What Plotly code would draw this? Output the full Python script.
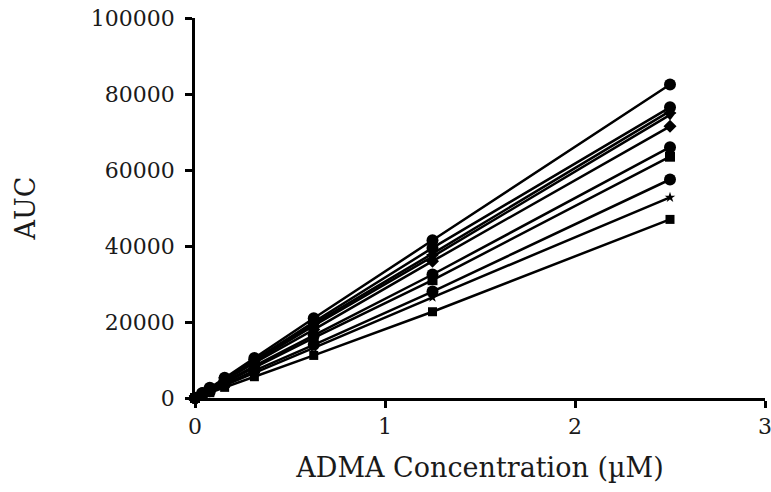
import plotly.graph_objects as go

conc = [0, 0.039, 0.078, 0.156, 0.3125, 0.625, 1.25, 2.5]

s1 = [0, 1300, 2700, 5300, 10500, 21000, 41500, 82500]
s2 = [0, 1250, 2500, 5000, 10000, 20000, 39500, 76500]
s3 = [0, 1200, 2450, 4900, 9800, 19500, 38000, 75500]
s4 = [0, 1200, 2400, 4800, 9500, 19000, 37200, 74500]
s5 = [0, 1150, 2300, 4600, 9200, 18000, 36000, 71500]
s6 = [0, 1050, 2100, 4200, 8400, 16500, 32500, 66000]
s7 = [0, 1000, 2000, 4000, 8000, 15800, 31000, 63500]
s8 = [0, 900, 1800, 3600, 7200, 14000, 28000, 57500]
s9 = [0, 850, 1650, 3300, 6600, 13200, 26500, 52800]
s10 = [0, 700, 1400, 2800, 5600, 11200, 22700, 47000]

series = [s1, s2, s3, s4, s5, s6, s7, s8, s9, s10]
symbols = ["circle", "circle", "triangle-up", "triangle-down", "diamond",
           "circle", "square", "circle", "star", "square"]
sizes = [12, 12, 11, 11, 10, 12, 10, 12, 8, 9]

y_ticks = [0, 20000, 40000, 60000, 80000, 100000]
x_ticks = [0, 1, 2, 3]

fig = go.Figure()
for vals, sym, sz in zip(series, symbols, sizes):
    fig.add_trace(go.Scatter(
        x=conc, y=vals, mode="lines+markers",
        line=dict(color="black", width=2.5),
        marker=dict(symbol=sym, size=sz, color="black"),
        cliponaxis=False, showlegend=False,
    ))

tick_font = dict(family="DejaVu Serif", size=22, color="#1a1a1a")
title_font = dict(family="DejaVu Serif", size=27, color="#1a1a1a")
fig.update_layout(
    width=771, height=492,
    margin=dict(l=195, r=6, t=18, b=94, autoexpand=False),
    plot_bgcolor="white", paper_bgcolor="white",
    xaxis=dict(range=[0, 3], tickvals=x_ticks, showgrid=False, zeroline=False,
               showline=True, linecolor="black", linewidth=2.5,
               ticks="outside", ticklen=7, tickwidth=2.5, tickcolor="black",
               tickfont=tick_font, ticklabeloverflow="allow", automargin=False,
               title=dict(text="ADMA Concentration (µM)", standoff=20, font=title_font),
               fixedrange=True),
    yaxis=dict(range=[0, 100000], tickvals=y_ticks, showgrid=False, zeroline=False,
               showline=True, linecolor="black", linewidth=2.5,
               ticks="outside", ticklen=7, tickwidth=2.5, tickcolor="black",
               tickformat="d", tickfont=tick_font, ticklabelstandoff=6,
               ticklabeloverflow="allow", automargin=False,
               title=dict(text="AUC", standoff=48, font=title_font),
               fixedrange=True),
)
fig.write_html("out.html")
